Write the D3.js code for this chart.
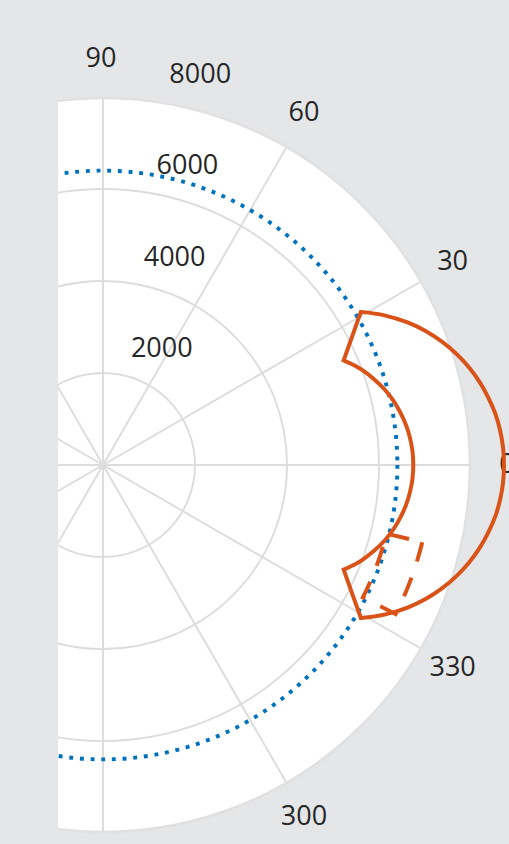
<!DOCTYPE html>
<html>
<head>
<meta charset="utf-8">
<script src="https://cdn.jsdelivr.net/npm/d3@7"></script>
<style>
  html, body { margin: 0; padding: 0; background: #e5e6e8; }
  svg { display: block; }
</style>
</head>
<body>
<svg id="chart" width="509" height="844"></svg>
<script>
// Angular grid, degrees counter-clockwise from east
const angleTicks = [0, 30, 60, 90, 120, 150, 180, 210, 240, 270, 300, 330];
const angleTickLabels = ["0", "30", "60", "90", "120", "150", "180", "210", "240", "270", "300", "330"];

// Radial grid
const radialTicks = [2000, 4000, 6000, 8000];
const radialTickLabels = ["2000", "4000", "6000", "8000"];
const radialMax = 8000;

// Reference ring (dotted blue)
const ringValue = 6400;

// Main lobe, outer edge from the upper corner down to the lower corner
const lobeOuterAngles = [30.7, 28, 25, 22.5, 20, 17.5, 15, 12.5, 10, 7.5, 5, 2.5, 0,
                         -2.5, -5, -7.5, -10, -12.5, -15, -17.5, -20, -22.5, -25, -28, -30.7];
const lobeOuterValues = [6520, 6930, 7320, 7600, 7840, 8050, 8230, 8380, 8500, 8600, 8665, 8705, 8717,
                         8705, 8665, 8600, 8500, 8380, 8230, 8050, 7840, 7600, 7320, 6930, 6520];

// Main lobe, inner edge from the lower corner back up
const lobeInnerAngles = [-23.5, -21.5, -20, -17.5, -15, -12.5, -10, -7.5, -5, -2.5, 0,
                         2.5, 5, 7.5, 10, 12.5, 15, 17.5, 20, 21.5, 23.5];
const lobeInnerValues = [5705, 5890, 6010, 6185, 6340, 6465, 6565, 6645, 6700, 6735, 6745,
                         6735, 6700, 6645, 6565, 6465, 6340, 6185, 6010, 5890, 5705];

// Dashed sector: angular span and radial span
const sectorAngles = [-13.6, -27.0];
const sectorValues = [6340, 7140];

// ---- layout ----
const width = 509, height = 844;
const cx = 103, cy = 465;
const outerR = 368;
const clipLeft = 58;
const labelGap = 38;

const svg = d3.select("#chart");

svg.append("rect").attr("width", width).attr("height", height).attr("fill", "#e5e6e8");

svg.append("defs").append("clipPath").attr("id", "plotClip")
  .append("rect").attr("x", clipLeft).attr("y", 0)
  .attr("width", width - clipLeft).attr("height", height);

const r = d3.scaleLinear().domain([0, radialMax]).range([0, outerR]);
// d3 radial angles run clockwise from north
const toRad = deg => (90 - deg) * Math.PI / 180;
const px = (deg, v) => cx + r(v) * Math.cos(deg * Math.PI / 180);
const py = (deg, v) => cy - r(v) * Math.sin(deg * Math.PI / 180);

const plot = svg.append("g").attr("clip-path", "url(#plotClip)");
const g = plot.append("g").attr("transform", `translate(${cx},${cy})`);

// plot disk
g.append("circle").attr("r", r(radialMax)).attr("fill", "#ffffff");

// grid circles
g.selectAll("circle.grid")
  .data(radialTicks.filter(v => v < radialMax))
  .join("circle")
  .attr("class", "grid")
  .attr("r", d => r(d))
  .attr("fill", "none")
  .attr("stroke", "#dcdcdc")
  .attr("stroke-width", 1.9);

// spokes
const spoke = d3.lineRadial().angle(d => d[0]).radius(d => d[1]);
g.selectAll("path.spoke")
  .data(angleTicks)
  .join("path")
  .attr("class", "spoke")
  .attr("d", a => spoke([[toRad(a), 0], [toRad(a), r(radialMax)]]))
  .attr("stroke", "#dcdcdc")
  .attr("stroke-width", 1.9)
  .attr("fill", "none");

// outer boundary
g.append("circle").attr("r", r(radialMax) - 1)
  .attr("fill", "none").attr("stroke", "#e0e0e0").attr("stroke-width", 2.5);

// dotted reference ring
g.append("circle")
  .attr("r", r(ringValue))
  .attr("fill", "none")
  .attr("stroke", "#0072bd")
  .attr("stroke-width", 3.9)
  .attr("stroke-dasharray", "3.9 6.8");

// labels
const font = "'Open Sans', 'Noto Sans', sans-serif";
const labels = svg.append("g")
  .attr("font-family", font)
  .attr("font-size", 27)
  .attr("fill", "#262626")
  .attr("text-anchor", "middle");

angleTicks.forEach((a, i) => {
  const x = cx + (outerR + labelGap) * Math.cos(a * Math.PI / 180) - 2;
  const y = cy - (outerR + labelGap) * Math.sin(a * Math.PI / 180);
  if (x < clipLeft - 20 || y > height + 10 || y < -10) return;
  labels.append("text")
    .attr("x", x).attr("y", y)
    .attr("dy", "0.3em")
    .text(angleTickLabels[i]);
});

const rLabelAngle = 82;
radialTicks.forEach((v, i) => {
  labels.append("text")
    .attr("x", px(rLabelAngle, v) + 46)
    .attr("y", py(rLabelAngle, v) - 27)
    .attr("dy", "0.36em")
    .text(radialTickLabels[i]);
});

// main lobe outline
const lobeColor = "#d95319";
const radialCurve = d3.lineRadial()
  .angle(d => toRad(d[0]))
  .radius(d => r(d[1]))
  .curve(d3.curveCatmullRom.alpha(0.5));

const outerPts = lobeOuterAngles.map((a, i) => [a, lobeOuterValues[i]]);
const innerPts = lobeInnerAngles.map((a, i) => [a, lobeInnerValues[i]]);
const lobePath = radialCurve(outerPts) + radialCurve(innerPts).replace(/^M/, "L") + "Z";

const marks = svg.append("g").attr("transform", `translate(${cx},${cy})`);

// dashed sector
const sectorArc = d3.arc()
  .innerRadius(r(sectorValues[0]))
  .outerRadius(r(sectorValues[1]))
  .startAngle(toRad(sectorAngles[0]))
  .endAngle(toRad(sectorAngles[1]));

marks.append("path")
  .attr("d", sectorArc())
  .attr("fill", "none")
  .attr("stroke", lobeColor)
  .attr("stroke-width", 4)
  .attr("stroke-dasharray", "20 17");

marks.append("path")
  .attr("d", lobePath)
  .attr("fill", "none")
  .attr("stroke", lobeColor)
  .attr("stroke-width", 4)
  .attr("stroke-linejoin", "miter");
</script>
</body>
</html>
